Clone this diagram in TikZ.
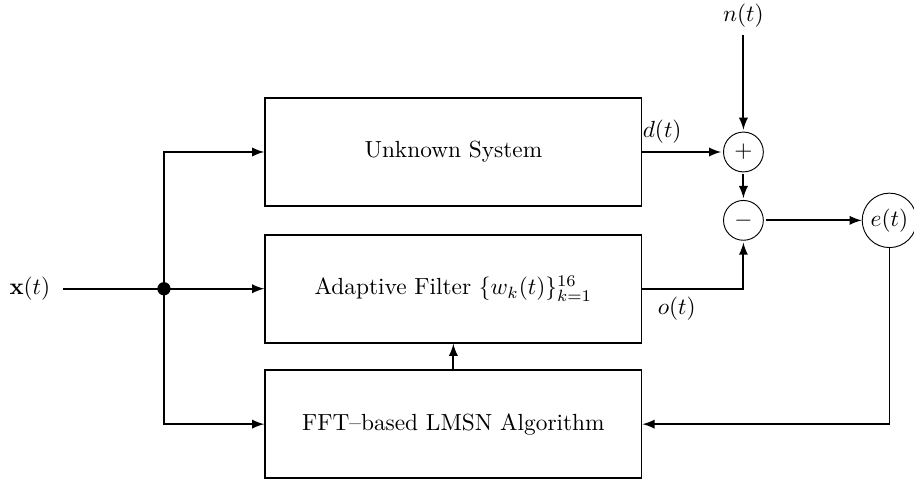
\documentclass[tikz,border=0pt]{standalone}
\usepackage{amsmath}
\usepackage{bm}
\usetikzlibrary{arrows,positioning}

\tikzset{
  block/.style={draw, thick, minimum width=5.67cm, minimum height=1.63cm},
  sumnode/.style={draw, circle, minimum size=0.6cm, inner sep=0pt, outer sep=1pt},
  conn/.style={thick, -latex},
}

\begin{document}
\begin{tikzpicture}
	\useasboundingbox (0,0) rectangle (13.77,7.25);

	% blocks
	\node[block] (us)  at (6.83,4.96) {Unknown System};
	\node[block] (af)  at (6.83,2.90) {Adaptive Filter $\{w_k(t)\}_{k=1}^{16}$};
	\node[block] (fft) at (6.83,0.86) {FFT--based LMSN Algorithm};

	% summing points
	\node[sumnode] (plus)  at (11.20,4.96) {$+$};
	\node[sumnode] (minus) at (11.20,3.93) {$-$};
	\node[draw, circle, inner sep=0pt, minimum size=0.82cm] (err) at (13.40,3.93) {$e(t)$};

	\node (xin)   at (0.45,2.90) {$\mathbf{x}(t)$};
	\node (noise) at (11.20,7.02) {$n(t)$};
	\coordinate (xs)    at (0.95,2.90);
	\coordinate (split) at (2.47,2.90);

	% input side
	\draw[thick] (xs) -- (split);
	\fill (split) circle (0.1);
	\draw[conn] (split) -- (af.west);
	\draw[conn] (split) |- (us.west);
	\draw[conn] (split) |- (fft.west);

	% output side
	\draw[conn] (noise) -- (plus);
	\draw[conn] (us.east) -- node[above, pos=0.25] {$d(t)$} (plus);
	\draw[conn] (plus) -- (minus);
	\draw[conn] (af.east) -| node[below, pos=0.17] {$o(t)$} (minus);
	\draw[conn] (minus) -- (err);
	\draw[conn] (err) |- (fft.east);
	\draw[conn] (fft.north) -- (af.south);
\end{tikzpicture}
\end{document}
